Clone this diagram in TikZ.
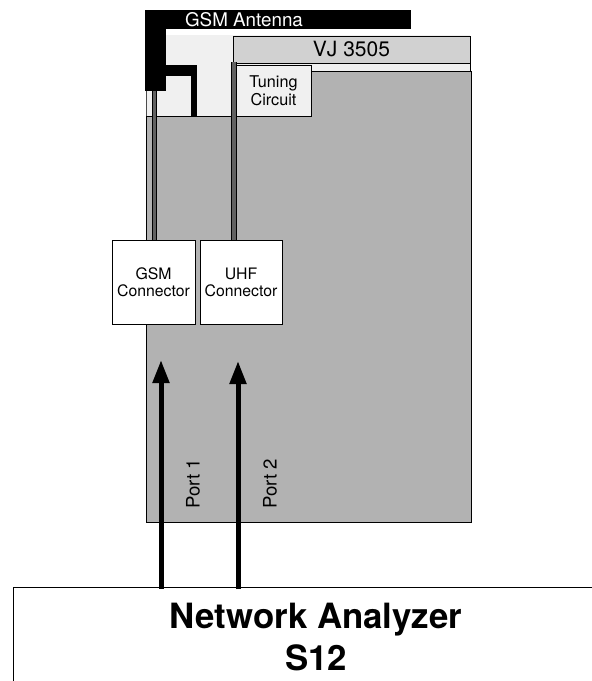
\documentclass[tikz,border=0pt]{standalone}
\usepackage{fontspec}
\setmainfont{TeX Gyre Heros}
\usetikzlibrary{arrows.meta}
\definecolor{boardgray}{gray}{0.70}
\definecolor{panelgray}{gray}{0.94}
\definecolor{vjgray}{gray}{0.82}
\definecolor{coaxgray}{gray}{0.38}
\tikzset{
  panel/.style={draw=black,line width=1pt,anchor=north west,inner sep=0pt,outer sep=0pt},
  whitebox/.style={panel,fill=white,align=center},
  antenna/.style={fill=black,draw=none},
  feed/.style={line width=5pt,draw=black,-{Triangle[length=23pt,width=16pt]},shorten >=0pt},
  portlabel/.style={rotate=90,font=\fontsize{18.6}{22}\selectfont,inner sep=0pt},
  connlabel/.style={font=\fontsize{15.8}{17}\selectfont},
}
\begin{document}
\begin{tikzpicture}[x=1pt,y=-1pt]
\useasboundingbox (0,0) rectangle (592,681);
% board layers
\fill[panelgray] (146,35) rectangle (470,116);
\draw[line width=1pt,fill=boardgray] (146.5,116) -- (233,116) -- (233,71) -- (471,71) -- (471,522) -- (146.5,522) -- cycle;
\draw[line width=1pt,draw=black!70] (146.5,91) -- (146.5,116);
\node[panel,fill=vjgray,minimum width=237pt,minimum height=27pt,font=\fontsize{21}{24}\selectfont] (vj) at (233,36) {VJ 3505};
\draw[line width=1pt] (470,63) -- (470,71);
% connector boxes
\node[whitebox,minimum width=83pt,minimum height=84pt,connlabel] (gsm) at (112,240) {GSM\\Connector};
\node[whitebox,minimum width=82pt,minimum height=84pt,connlabel] (uhf) at (200,240) {UHF\\Connector};
% antenna
\node[antenna,anchor=north west,minimum width=266pt,minimum height=19pt,inner sep=0pt] (ant) at (145,10) {};
\node[text=white,font=\fontsize{18.8}{22}\selectfont,inner sep=0pt] (antlabel) at (244,20) {GSM Antenna};
\node[antenna,anchor=north west,minimum width=21pt,minimum height=81pt,inner sep=0pt] (antstem) at (145,10) {};
\coordinate (stemexit) at (166,70.5);
\coordinate (branchdown) at (194,116);
\draw[line width=11pt,draw=black] (stemexit) -- (197,70.5);
\draw[line width=6pt,draw=black] (194,65) -- (branchdown);
% coax lines
\draw[line width=5pt,draw=black] (antstem.south -| 154.5,0) -- (gsm.north -| 154.5,0);
\draw[line width=2.6pt,draw=coaxgray] (antstem.south -| 154.5,0) -- (gsm.north -| 154.5,0);
\coordinate (uhftop) at (233.8,62);
\draw[line width=6pt,draw=black] (uhftop) -- (uhf.north -| uhftop);
\draw[line width=3.4pt,draw=coaxgray] (uhftop) -- (uhf.north -| uhftop);
% tuning circuit
\node[whitebox,fill=panelgray,minimum width=75pt,minimum height=51pt,font=\fontsize{16.2}{18}\selectfont] (tune) at (236,65) {Tuning\\Circuit};
% network analyzer
\coordinate (nal) at (13.5,681);
\coordinate (nat) at (13.5,587.5);
\coordinate (nar) at (592,587.5);
\draw[line width=1pt] (nal) -- (nat) -- (nar);
\node[font=\bfseries\fontsize{34.8}{42}\selectfont,align=center,inner sep=0pt] (na) at (316,637) {Network Analyzer\\S12};
% feeds
\coordinate (p1a) at (161,588.5);
\coordinate (p1b) at (161,360);
\coordinate (p2a) at (238,589);
\coordinate (p2b) at (238,361);
\draw[feed] (p1a) -- (p1b);
\draw[feed] (p2a) -- (p2b);
\node[portlabel] (port1) at (193,484) {Port 1};
\node[portlabel] (port2) at (270,484) {Port 2};
\end{tikzpicture}
\end{document}
